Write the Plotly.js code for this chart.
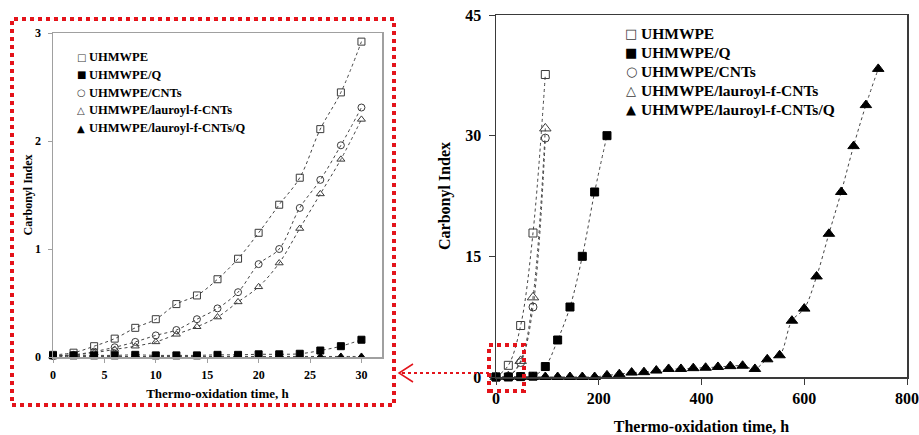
<!DOCTYPE html>
<html>
<head>
<meta charset="utf-8">
<script src="https://cdn.plot.ly/plotly-3.0.1.min.js"></script>
<style>
  html, body { margin: 0; padding: 0; background: #fff; }
  #chart { width: 919px; height: 435px; }
</style>
</head>
<body>
<div id="chart"></div>
<script>
// Sample names
const seriesNames = [
  'UHMWPE',
  'UHMWPE/Q',
  'UHMWPE/CNTs',
  'UHMWPE/lauroyl-f-CNTs',
  'UHMWPE/lauroyl-f-CNTs/Q'
];
const keyGlyphs = ['\u25A1', '\u25A0', '\u25CB', '\u25B3', '\u25B2'];

// Detail: first 30 h of thermo-oxidation
const detailHours = [0, 2, 4, 6, 8, 10, 12, 14, 16, 18, 20, 22, 24, 26, 28, 30];
const detailUHMWPE = [0.02, 0.04, 0.10, 0.17, 0.27, 0.35, 0.49, 0.57, 0.72, 0.91, 1.15, 1.41, 1.66, 2.11, 2.45, 2.92];
const detailUHMWPE_Q = [0.015, 0.015, 0.015, 0.015, 0.02, 0.015, 0.015, 0.015, 0.02, 0.02, 0.025, 0.025, 0.03, 0.06, 0.10, 0.16];
const detailCNTs = [0.01, 0.02, 0.05, 0.09, 0.14, 0.20, 0.25, 0.35, 0.45, 0.60, 0.86, 1.00, 1.38, 1.64, 1.96, 2.31];
const detailLauroyl = [0.01, 0.02, 0.04, 0.07, 0.10, 0.14, 0.21, 0.28, 0.37, 0.51, 0.65, 0.87, 1.19, 1.51, 1.83, 2.20];
const detailLauroylQ = [0.005, 0.005, 0.005, 0.005, 0.005, 0.005, 0.005, 0.005, 0.005, 0.005, 0.005, 0.005, 0.005, 0.005, 0.005, 0.005];

// Full run
const runHoursShort = [0, 24, 48, 72, 96];
const runUHMWPE = [0, 1.45, 6.4, 17.9, 37.6];
const runCNTs = [0, 0.1, 1.8, 8.7, 29.7];
const runLauroyl = [0, 0.1, 2.0, 9.9, 30.9];
const runHoursQ = [0, 24, 48, 72, 96, 120, 144, 168, 192, 216];
const runUHMWPE_Q = [0, 0, 0.05, 0.1, 1.3, 4.6, 8.7, 15.0, 23.0, 30.0];
const runHoursLauroylQ = [0, 24, 48, 72, 96, 120, 144, 168, 192, 216, 240, 264, 288, 312, 336, 360,
  384, 408, 432, 456, 480, 504, 528, 552, 576, 600, 624, 648, 672, 696, 720, 744];
const runLauroylQ = [0, 0, 0, 0, 0, 0, 0, 0, 0, 0.2, 0.35, 0.55, 0.6, 0.8, 1.0, 1.0,
  1.1, 1.15, 1.25, 1.35, 1.4, 1.0, 2.2, 2.7, 7.0, 8.5, 12.5, 17.8, 23.0, 28.7, 33.8, 38.3];

const detailTicks = [0, 5, 10, 15, 20, 25, 30];
const runTicks = [0, 200, 400, 600, 800];

const SERIF = 'Liberation Serif, Times New Roman, serif';
const W = 919, H = 435;
const px = v => v / W;
const py = v => 1 - v / H;

const symbols = ['square-open', 'square', 'circle-open', 'triangle-up-open', 'triangle-up'];
const colors = ['#3a3a3a', '#000000', '#3a3a3a', '#3a3a3a', '#000000'];

const traces = [];
function addSeries(i, xs, ys, xa, ya, size) {
  traces.push({
    x: xs, y: ys, xaxis: xa, yaxis: ya, mode: 'lines', showlegend: false, hoverinfo: 'skip',
    line: { color: '#444', width: 1, dash: 'dot', shape: 'spline', smoothing: 1 }
  });
  traces.push({
    x: xs, y: ys, xaxis: xa, yaxis: ya, mode: 'markers', name: seriesNames[i],
    showlegend: false, cliponaxis: false,
    marker: { symbol: symbols[i], size: size[i], color: colors[i], line: { color: colors[i], width: 1 } }
  });
}

// left panel: filled triangles first so the filled squares sit on top
const detailSize = [7, 7, 7, 7, 7];
addSeries(4, detailHours, detailLauroylQ, 'x', 'y', detailSize);
addSeries(0, detailHours, detailUHMWPE, 'x', 'y', detailSize);
addSeries(2, detailHours, detailCNTs, 'x', 'y', detailSize);
addSeries(3, detailHours, detailLauroyl, 'x', 'y', detailSize);
addSeries(1, detailHours, detailUHMWPE_Q, 'x', 'y', detailSize);

// right panel
const runSize = [8, 8, 8, 10, 10];
addSeries(4, runHoursLauroylQ, runLauroylQ, 'x2', 'y2', runSize);
addSeries(0, runHoursShort, runUHMWPE, 'x2', 'y2', runSize);
addSeries(2, runHoursShort, runCNTs, 'x2', 'y2', runSize);
addSeries(3, runHoursShort, runLauroyl, 'x2', 'y2', runSize);
addSeries(1, runHoursQ, runUHMWPE_Q, 'x2', 'y2', runSize);

// keys: glyph + series name, one row per series
function keyRows(glyphX, textX, firstY, step, glyphSize, textSize) {
  const out = [];
  seriesNames.forEach((name, i) => {
    const y = py(firstY + i * step);
    out.push({
      xref: 'paper', yref: 'paper', x: px(glyphX), y: y, xanchor: 'center', yanchor: 'middle',
      showarrow: false, text: keyGlyphs[i],
      font: { family: 'DejaVu Sans', size: glyphSize, color: colors[i] }
    });
    out.push({
      xref: 'paper', yref: 'paper', x: px(textX), y: y, xanchor: 'left', yanchor: 'middle',
      showarrow: false, text: name,
      font: { family: SERIF, size: textSize, weight: 'bold', color: '#000' }
    });
  });
  return out;
}

function axisStyle(opts) {
  return Object.assign({
    showgrid: false, zeroline: false, showline: true, mirror: true,
    ticks: 'outside', fixedrange: true
  }, opts);
}

const RED = '#e3141b';

const layout = {
  width: W, height: H,
  margin: { l: 0, r: 0, t: 0, b: 0 },
  paper_bgcolor: '#ffffff', plot_bgcolor: '#ffffff',
  font: { family: SERIF, color: '#000' },
  showlegend: false,
  xaxis: axisStyle({
    domain: [px(53), px(382)], anchor: 'y', range: [0, 32],
    tickvals: detailTicks, ticklen: 4, tickcolor: '#a0a0a0',
    linecolor: '#a0a0a0', linewidth: 1.5, ticklabelstandoff: 2,
    tickfont: { family: SERIF, size: 12, weight: 'bold', color: '#000' },
    title: { text: 'Thermo-oxidation time, h', standoff: 8,
      font: { family: SERIF, size: 13, weight: 'bold', color: '#000' } }
  }),
  yaxis: axisStyle({
    domain: [py(357), py(33)], anchor: 'x', range: [0, 3], dtick: 1,
    ticklen: 4, tickcolor: '#a0a0a0', linecolor: '#a0a0a0', linewidth: 1.5, ticklabelstandoff: 4,
    tickfont: { family: SERIF, size: 12, weight: 'bold', color: '#000' },
    title: { text: 'Carbonyl Index', standoff: 0,
      font: { family: SERIF, size: 12, weight: 'bold', color: '#000' } }
  }),
  xaxis2: axisStyle({
    domain: [px(496), px(907)], anchor: 'y2', range: [0, 800],
    tickvals: runTicks, ticklen: 6, tickcolor: '#3a3a3a',
    linecolor: '#3a3a3a', linewidth: 1.5, ticklabelstandoff: 0,
    tickfont: { family: SERIF, size: 16, weight: 'bold', color: '#000' },
    title: { text: 'Thermo-oxidation time, h', standoff: 19,
      font: { family: SERIF, size: 16, weight: 'bold', color: '#000' } }
  }),
  yaxis2: axisStyle({
    domain: [py(377), py(15)], anchor: 'x2', range: [0, 45], dtick: 15,
    ticklen: 6, tickcolor: '#3a3a3a', linecolor: '#3a3a3a', linewidth: 1.5, ticklabelstandoff: 4,
    tickfont: { family: SERIF, size: 16, weight: 'bold', color: '#000' },
    title: { text: 'Carbonyl Index', standoff: 10,
      font: { family: SERIF, size: 16, weight: 'bold', color: '#000' } }
  }),
  annotations: [].concat(
    keyRows(81, 87, 57, 17.8, 10, 12.5),
    keyRows(631, 639, 33, 19.2, 13, 15.5)
  ),
  shapes: [
    // frame around the 0–30 h detail panel
    { type: 'rect', xref: 'paper', yref: 'paper',
      x0: px(12), x1: px(394), y0: py(405), y1: py(19),
      line: { color: RED, width: 4, dash: 'dot' } },
    // region of the full run that the detail panel enlarges
    { type: 'rect', xref: 'paper', yref: 'paper',
      x0: px(489), x1: px(524), y0: py(391), y1: py(345),
      line: { color: RED, width: 4, dash: 'dot' } },
    // connector pointing to the detail panel
    { type: 'line', xref: 'paper', yref: 'paper',
      x0: px(489), x1: px(400), y0: py(373), y1: py(373),
      line: { color: RED, width: 2, dash: 'dot' } },
    { type: 'path', xref: 'paper', yref: 'paper',
      path: `M ${px(413)},${py(364)} L ${px(399)},${py(373)} L ${px(413)},${py(382)}`,
      line: { color: RED, width: 1.5 } }
  ]
};

Plotly.newPlot('chart', traces, layout, { displayModeBar: false, staticPlot: true });
</script>
</body>
</html>
